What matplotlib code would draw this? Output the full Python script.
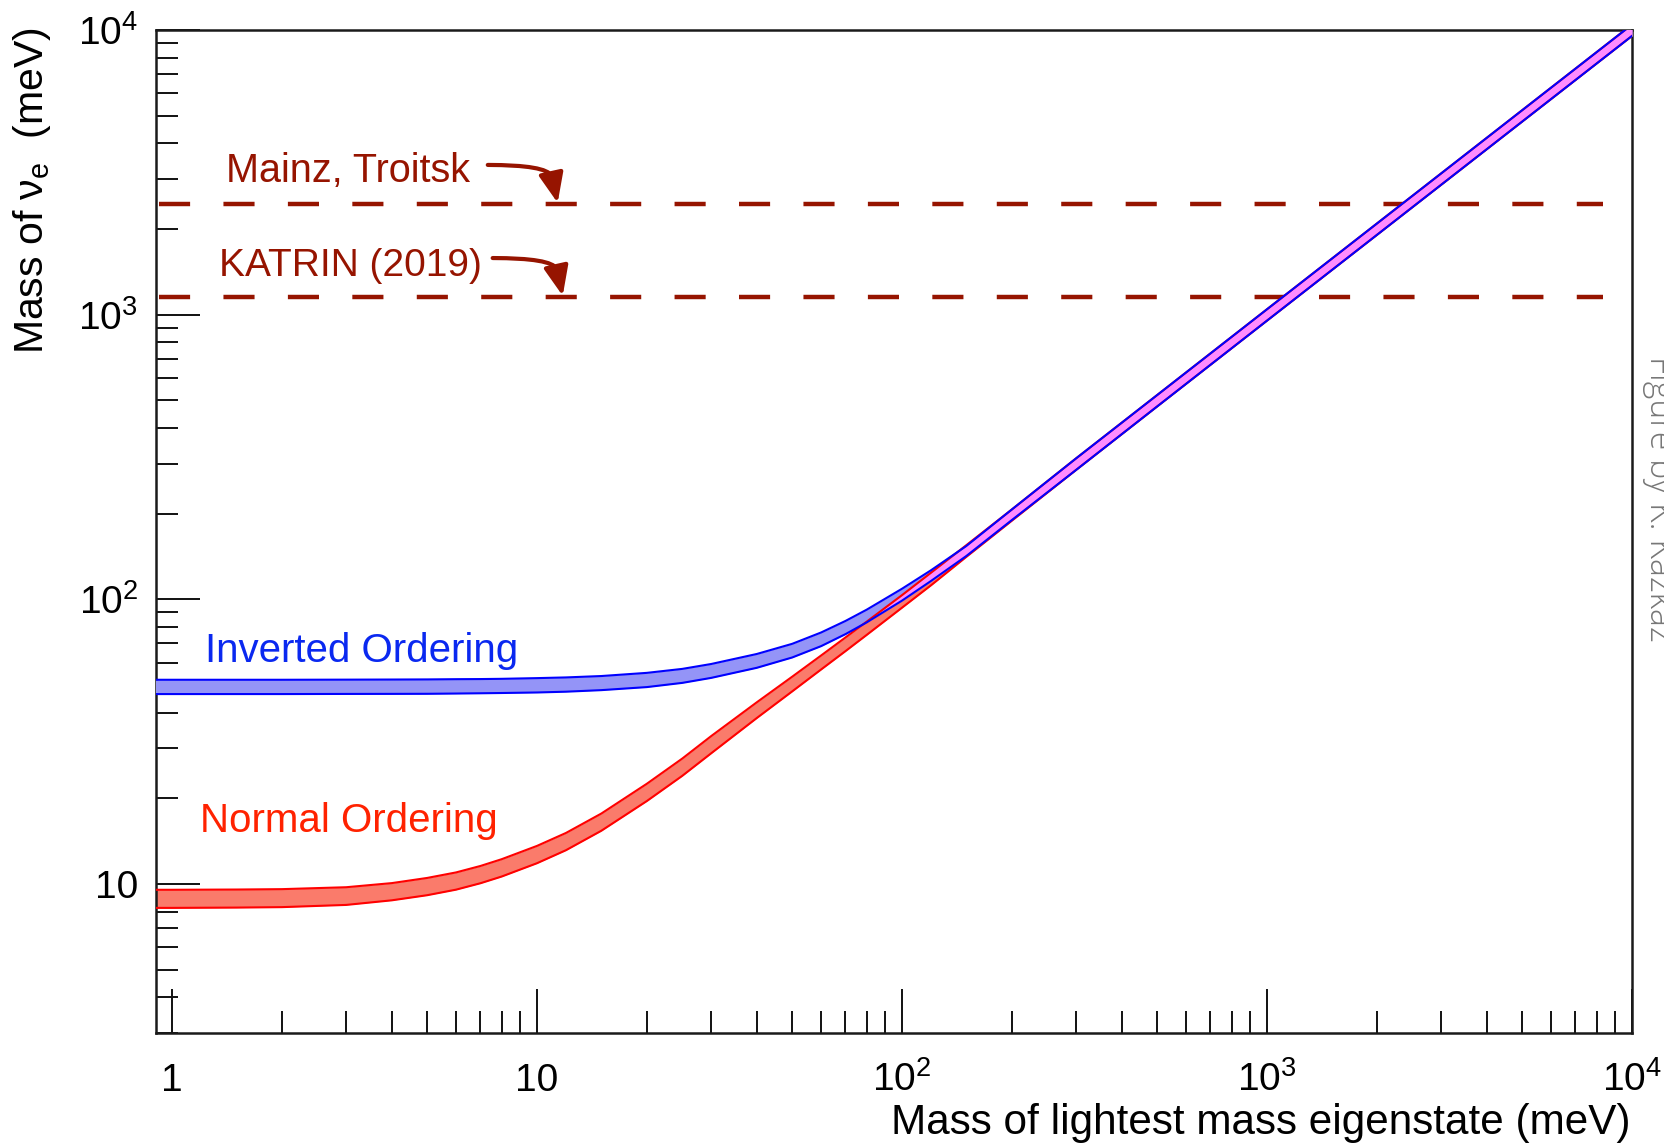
import numpy as np
import matplotlib
matplotlib.use('Agg')
import matplotlib.pyplot as plt
from matplotlib.patches import FancyArrowPatch
from matplotlib.ticker import LogLocator, NullFormatter

plt.rcParams['font.family'] = ['Liberation Sans', 'DejaVu Sans']
plt.rcParams['mathtext.fontset'] = 'custom'
plt.rcParams['mathtext.rm'] = 'Liberation Sans'
plt.rcParams['mathtext.it'] = 'Liberation Sans:italic'
plt.rcParams['mathtext.bf'] = 'Liberation Sans:bold'

# lightest mass eigenstate (meV)
m_light = [0.9, 1, 1.5, 2, 3, 4, 5, 6, 7, 8, 10, 12, 15, 20, 25, 30, 40, 50, 60, 70,
           80, 100, 120, 150, 200, 300, 500, 1000, 2000, 5000, 10000]

# normal ordering band (meV)
no_lo = [8.25, 8.25, 8.27, 8.3, 8.45, 8.77, 9.14, 9.56, 10.07, 10.63, 11.84, 13.15, 15.39, 19.58, 24.0,
         28.8, 38.3, 47.5, 56.7, 65.8, 75, 93.5, 112, 141, 189, 285, 476, 953, 1906, 4765, 9530]
no_hi = [9.55, 9.55, 9.57, 9.6, 9.75, 10.08, 10.51, 10.99, 11.58, 12.23, 13.62, 15.12, 17.69, 22.52, 27.6,
         33.1, 43.5, 53.5, 63.5, 73.5, 83.5, 103.5, 124, 155, 207, 313, 522, 1045, 2090, 5225, 10450]

# inverted ordering band (meV)
io_lo = [46.5, 46.5, 46.5, 46.5, 46.55, 46.57, 46.6, 46.7, 46.8, 46.9, 47.1, 47.4, 48.0, 49.2, 50.9,
         53.0, 57.5, 62.5, 68.5, 75.5, 83, 99, 116, 142, 190, 285, 476, 953, 1906, 4765, 9530]
io_hi = [52.2, 52.2, 52.2, 52.2, 52.25, 52.3, 52.35, 52.45, 52.5, 52.6, 52.9, 53.2, 53.8, 55.2, 57.0,
         59.3, 64.3, 69.8, 76.5, 84.0, 92, 109, 126.5, 154, 207, 313, 522, 1045, 2090, 5225, 10450]

# direct limits (meV)
limit_names = ['Mainz, Troitsk', 'KATRIN (2019)']
limit_values = [2440, 1150]

xticks = [1, 10, 100, 1000, 10000]
xtick_labels = ['1', '10', r'$\mathregular{10^{2}}$', r'$\mathregular{10^{3}}$', r'$\mathregular{10^{4}}$']
yticks = [10, 100, 1000, 10000]
ytick_labels = ['10', r'$\mathregular{10^{2}}$', r'$\mathregular{10^{3}}$', r'$\mathregular{10^{4}}$']

dark_red = '#961400'

fig = plt.figure(figsize=(16.65, 11.48), dpi=100)
ax = fig.add_axes([0.0937, 0.1002, 0.8865, 0.8737])
ax.set_xscale('log')
ax.set_yscale('log')
ax.set_xlim(0.904, 1e4)
ax.set_ylim(3, 1e4)

x = np.array(m_light)
nl, nh = np.array(no_lo), np.array(no_hi)
il, ih = np.array(io_lo), np.array(io_hi)

ax.fill_between(x, nl, nh, color='#fa7b6b', lw=0, zorder=2)
ax.fill_between(x, il, ih, color='#9494f7', lw=0, zorder=3)
ov_lo = np.maximum(nl, il)
ov_hi = np.minimum(nh, ih)
ax.fill_between(x, ov_lo, ov_hi, where=ov_hi > ov_lo, interpolate=True,
                color='#ff8cff', lw=0, zorder=4)
ax.plot(x, nl, color='#ff0000', lw=1.5, zorder=5)
ax.plot(x, nh, color='#ff0000', lw=1.5, zorder=5)
ax.plot(x, il, color='#0000ff', lw=1.5, zorder=6)
ax.plot(x, ih, color='#0000ff', lw=1.5, zorder=6)

for val in limit_values:
    ax.axhline(val, xmin=0.002, xmax=0.98, color=dark_red, lw=3.2,
               dashes=(7, 7.5), zorder=1.5)

# labels for the limits, with curved arrows (curved body + straight head)
ax.text(1.405, 2931, limit_names[0], color=dark_red, fontsize=28.5, va='baseline')
ax.text(1.348, 1368, limit_names[1], color=dark_red, fontsize=28, va='baseline')
arrow_paths = [((7.33, 3357), (10.97, 3070), (11.39, 2470)),
               ((7.56, 1581), (11.32, 1449), (11.76, 1165))]
for start, bend, tip in arrow_paths:
    body = FancyArrowPatch(start, bend, connectionstyle='angle3,angleA=0,angleB=115',
                           arrowstyle='-', lw=3, color=dark_red,
                           shrinkA=0, shrinkB=0, zorder=7)
    ax.add_patch(body)
    ax.annotate('', xy=tip, xytext=bend, zorder=7,
                arrowprops=dict(arrowstyle='-|>,head_length=1.8,head_width=0.75',
                                mutation_scale=10, lw=3, color=dark_red,
                                shrinkA=0, shrinkB=0))

ax.text(1.23, 60.4, 'Inverted Ordering', color='#0a28f0', fontsize=29, va='baseline')
ax.text(1.19, 15.27, 'Normal Ordering', color='#ff2200', fontsize=29, va='baseline')

ax.set_xticks(xticks)
ax.set_xticklabels(xtick_labels)
ax.set_yticks(yticks)
ax.set_yticklabels(ytick_labels)
ax.xaxis.set_minor_locator(LogLocator(base=10, subs=range(2, 10), numticks=50))
ax.yaxis.set_minor_locator(LogLocator(base=10, subs=range(2, 10), numticks=50))
ax.xaxis.set_minor_formatter(NullFormatter())
ax.yaxis.set_minor_formatter(NullFormatter())
ax.tick_params(which='both', direction='in', top=False, right=False, width=1.4, color='#111111')
ax.tick_params(which='major', length=31.7)
ax.tick_params(which='minor', length=15.8)
ax.tick_params(axis='x', which='major', pad=42, labelsize=28)
ax.tick_params(axis='y', which='major', pad=13, labelsize=28)
for lab in ax.get_xticklabels():
    lab.set_va('baseline')
for s in ax.spines.values():
    s.set_linewidth(1.8)
    s.set_color('#1a1a1a')

fig.text(0.979, 0.0122, 'Mass of lightest mass eigenstate (meV)', ha='right', va='baseline', fontsize=30.4)
fig.text(0.0192, 0.9765, r'Mass of ν$_{\mathregular{e}}$  (meV)', rotation=90, ha='center', va='top', fontsize=29.5)
fig.text(0.9862, 0.69, 'Figure by K. Kazkaz', rotation=270, ha='left', va='top', fontsize=24.4,
         color='#777777', family=['Open Sans', 'DejaVu Sans'], fontweight='light')

fig.savefig('out.png', dpi=100)
